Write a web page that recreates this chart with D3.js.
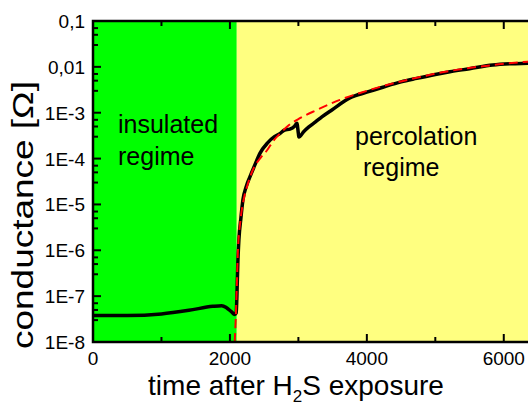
<!DOCTYPE html>
<html>
<head>
<meta charset="utf-8">
<script src="https://cdn.jsdelivr.net/npm/d3@7"></script>
<style>
  body { margin: 0; background: #fff; }
  svg { display: block; overflow: hidden; }
  text { font-family: "Liberation Sans", Arial, sans-serif; fill: #000; }
</style>
</head>
<body>
<div id="chart"></div>
<script>
// measured curve: time [s] and conductance
const timeData = [0, 500, 1000, 1400, 1750, 1880, 1950, 2020, 2070, 2092, 2102, 2115, 2131, 2160, 2190,
  2240, 2292, 2360, 2438, 2550, 2650, 2730, 2800, 2876, 2940, 2978, 3000, 3007, 3080, 3153, 3250,
  3343, 3490, 3752, 4000, 4234, 4500, 4730, 5000, 5212, 5500, 5839, 6100, 6350, 6500];
const condData = [3.8e-8, 3.8e-8, 4.1e-8, 4.9e-8, 6.0e-8, 6.2e-8, 5.6e-8, 4.6e-8, 4.0e-8, 4.3e-8, 1e-7, 5e-7,
  1.7e-6, 5e-6, 1.26e-5, 2.5e-5, 4e-5, 7e-5, 1.3e-4, 2.2e-4, 3e-4, 3.5e-4, 4.2e-4, 4.4e-4, 5e-4, 5.9e-4,
  3.5e-4, 2.95e-4, 3.9e-4, 4.9e-4, 6.3e-4, 8.1e-4, 1.15e-3, 2.1e-3, 2.8e-3, 3.6e-3, 4.7e-3, 5.6e-3,
  6.8e-3, 7.8e-3, 9.1e-3, 1.1e-2, 1.17e-2, 1.2e-2, 1.22e-2];

// percolation fit (red dashed)
const fitTime = [2070, 2085, 2100, 2117, 2150, 2200, 2248, 2350, 2450, 2540, 2640, 2730, 2850, 3022, 3270,
  3606, 3900, 4234, 4730, 5100, 5460, 5900, 6350, 6500];
const fitCond = [1e-8, 3.2e-8, 1.6e-7, 1e-6, 4e-6, 1.26e-5, 2.4e-5, 6.3e-5, 1.05e-4, 1.5e-4, 2.5e-4, 3.5e-4,
  5.2e-4, 7.6e-4, 1.15e-3, 1.9e-3, 2.7e-3, 3.8e-3, 5.8e-3, 7.6e-3, 9.3e-3, 1.12e-2, 1.3e-2, 1.35e-2];

// regimes
const regimeNames = [["insulated", "regime"], ["percolation", "regime"]];
const regimeFrom = [0, 2100];
const regimeTo = [2100, 6500];
const regimeColors = ["#00ff00", "#ffff80"];

// ticks
const xTicks = [0, 2000, 4000, 6000];
const xMinorTicks = [1000, 3000, 5000];
const yTicks = [1e-8, 1e-7, 1e-6, 1e-5, 1e-4, 1e-3, 1e-2, 1e-1];
const yTickLabels = ["1E-8", "1E-7", "1E-6", "1E-5", "1E-4", "1E-3", "0,01", "0,1"];

const width = 528, height = 406;
const margin = { left: 93, top: 21, bottom: 64 };
const plotRight = 538; // right frame sits just outside the picture

const svg = d3.select("#chart").append("svg")
  .attr("width", width)
  .attr("height", height);

const x = d3.scaleLinear().domain([0, 6500]).range([margin.left, plotRight]);
const y = d3.scaleLog().domain([1e-8, 1e-1]).range([height - margin.bottom, margin.top]);

// clip for the curves
svg.append("defs").append("clipPath").attr("id", "plotclip")
  .append("rect")
  .attr("x", x(0)).attr("y", y(1e-1))
  .attr("width", x(6500) - x(0)).attr("height", y(1e-8) - y(1e-1));

// background regimes
svg.selectAll("rect.regime")
  .data(regimeFrom)
  .enter().append("rect")
  .attr("class", "regime")
  .attr("x", (d, i) => x(d))
  .attr("y", y(1e-1))
  .attr("width", (d, i) => x(regimeTo[i]) - x(d))
  .attr("height", y(1e-8) - y(1e-1))
  .attr("fill", (d, i) => regimeColors[i]);

// regime labels
const labelPos = [[118, 133, 32], [355, 145, 31]];
regimeNames.forEach((lines, i) => {
  const t = svg.append("text")
    .attr("x", labelPos[i][0])
    .attr("y", labelPos[i][1])
    .style("font-size", "25px");
  lines.forEach((s, j) => {
    t.append("tspan")
      .attr("x", labelPos[i][0] + (i === 1 && j === 1 ? 8 : 0))
      .attr("y", labelPos[i][1] + j * labelPos[i][2])
      .text(s);
  });
});

// curves
const line = d3.line()
  .x(d => x(d[0]))
  .y(d => y(d[1]))
  .curve(d3.curveMonotoneX);

const g = svg.append("g").attr("clip-path", "url(#plotclip)");

g.append("path")
  .datum(timeData.map((t, i) => [t, condData[i]]))
  .attr("d", line)
  .attr("fill", "none")
  .attr("stroke", "#000")
  .attr("stroke-width", 3.5)
  .attr("stroke-linejoin", "round");

g.append("path")
  .datum(fitTime.map((t, i) => [t, fitCond[i]]))
  .attr("d", line)
  .attr("fill", "none")
  .attr("stroke", "#ff0000")
  .attr("stroke-width", 2)
  .attr("stroke-dasharray", "9,5");

// frame
svg.append("rect")
  .attr("x", x(0)).attr("y", y(1e-1))
  .attr("width", x(6500) - x(0)).attr("height", y(1e-8) - y(1e-1))
  .attr("fill", "none")
  .attr("stroke", "#000")
  .attr("stroke-width", 2.5);

// y ticks (inside), major + minor 3,5,7
const yMinor = [];
yTicks.slice(0, -1).forEach(v => [3, 5, 7].forEach(m => yMinor.push(v * m)));
svg.selectAll("line.ymaj").data(yTicks).enter().append("line")
  .attr("x1", x(0)).attr("x2", x(0) + 8)
  .attr("y1", d => y(d)).attr("y2", d => y(d))
  .attr("stroke", "#000").attr("stroke-width", 2);
svg.selectAll("line.ymin").data(yMinor).enter().append("line")
  .attr("x1", x(0)).attr("x2", x(0) + 5)
  .attr("y1", d => y(d)).attr("y2", d => y(d))
  .attr("stroke", "#000").attr("stroke-width", 2);
svg.selectAll("text.ylab").data(yTicks).enter().append("text")
  .attr("x", x(0) - 8)
  .attr("y", d => y(d) + 7)
  .attr("text-anchor", "end")
  .style("font-size", "19px")
  .text((d, i) => yTickLabels[i]);

// x ticks, bottom and top
[y(1e-8), y(1e-1)].forEach((yy, k) => {
  const dir = k === 0 ? -1 : 1;
  svg.selectAll("line.xmaj" + k).data(xTicks).enter().append("line")
    .attr("x1", d => x(d)).attr("x2", d => x(d))
    .attr("y1", yy).attr("y2", yy + dir * 8)
    .attr("stroke", "#000").attr("stroke-width", 2);
  svg.selectAll("line.xmin" + k).data(xMinorTicks).enter().append("line")
    .attr("x1", d => x(d)).attr("x2", d => x(d))
    .attr("y1", yy).attr("y2", yy + dir * 5)
    .attr("stroke", "#000").attr("stroke-width", 2);
});
svg.selectAll("text.xlab").data(xTicks).enter().append("text")
  .attr("x", d => x(d))
  .attr("y", y(1e-8) + 23)
  .attr("text-anchor", "middle")
  .style("font-size", "19px")
  .text(d => d);

// axis titles
const xt = svg.append("text")
  .attr("x", 296)
  .attr("y", 395)
  .attr("text-anchor", "middle")
  .style("font-size", "28px");
xt.append("tspan").text("time after H");
xt.append("tspan").attr("dy", 7).style("font-size", "17px").text("2");
xt.append("tspan").attr("dy", -7).text("S exposure");

svg.append("text")
  .attr("transform", "translate(33,349) rotate(-90)")
  .attr("textLength", 268)
  .attr("lengthAdjust", "spacingAndGlyphs")
  .style("font-size", "30px")
  .text("conductance [Ω]");
</script>
</body>
</html>
